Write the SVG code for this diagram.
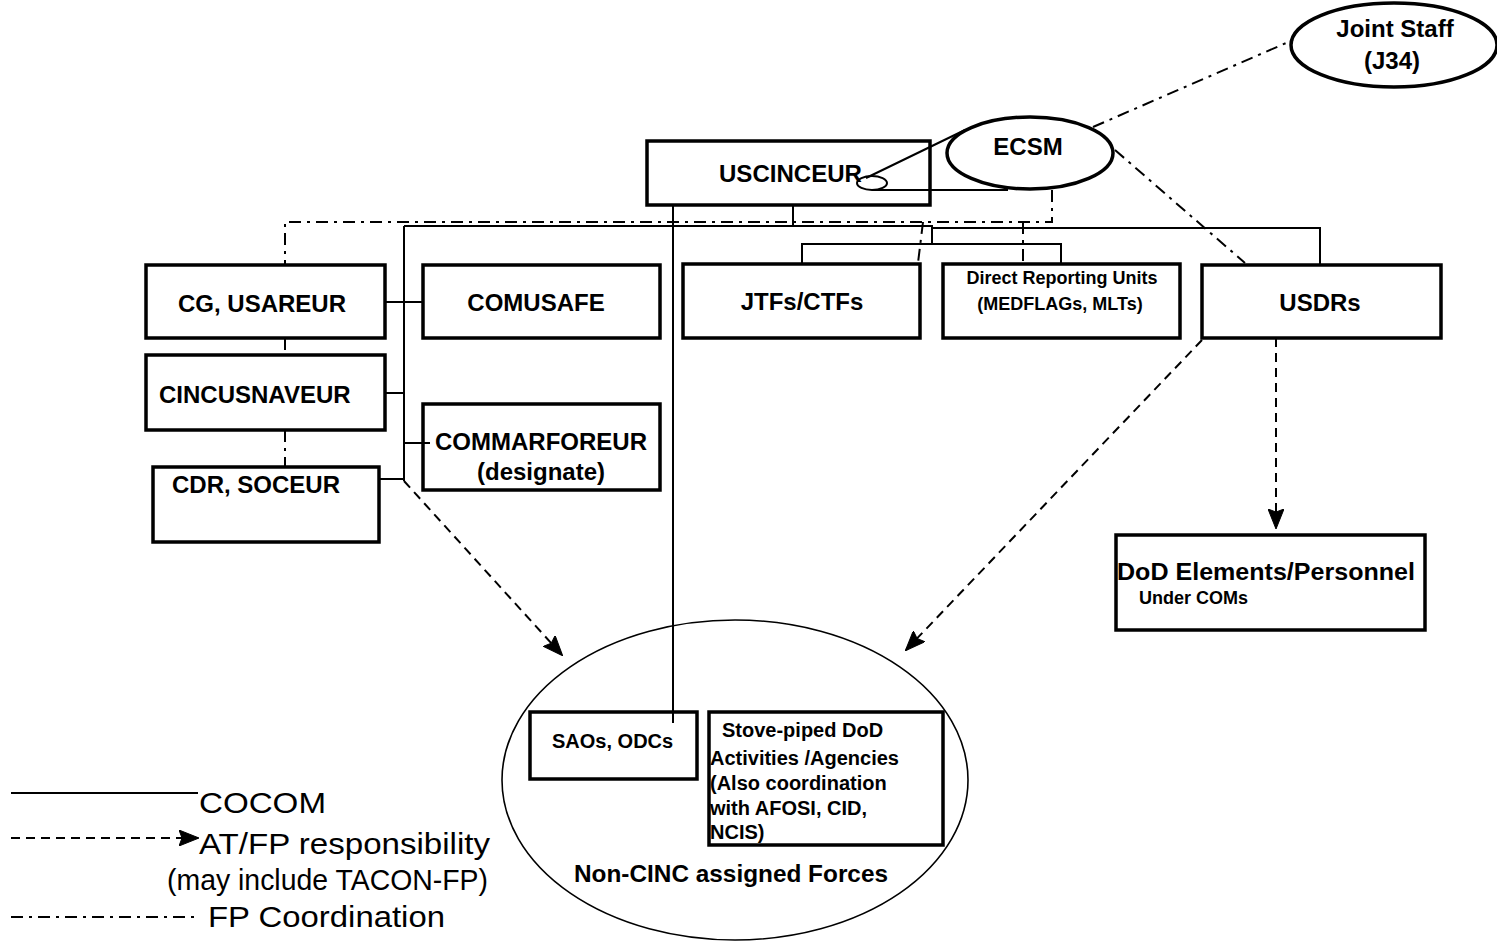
<svg xmlns="http://www.w3.org/2000/svg" width="1497" height="943" viewBox="0 0 1497 943">
<style>
.box{fill:#fff;stroke:#000;stroke-width:3.5}
.ell{fill:#fff;stroke:#000;stroke-width:3.5}
.thin{fill:none;stroke:#000;stroke-width:1.6}
.co{fill:none;stroke:#000;stroke-width:2}
.dd{fill:none;stroke:#000;stroke-width:2;stroke-dasharray:12 6 3 6}
.da{fill:none;stroke:#000;stroke-width:2;stroke-dasharray:9 6}
.t{font-family:"Liberation Sans",Arial,sans-serif;font-weight:bold;font-size:24px;fill:#000}
.s{font-size:18px}
.m{font-size:20px}
.l{font-family:"Liberation Sans",Arial,sans-serif;font-size:29px;fill:#000}
.c{text-anchor:middle}
</style>
<defs>
<marker id="ah" viewBox="0 0 20 16" refX="19" refY="8" markerWidth="20" markerHeight="16" markerUnits="userSpaceOnUse" orient="auto">
<path d="M0,0 L20,8 L0,16 L3,8 z" fill="#000" stroke="#000" stroke-width="1"/>
</marker>
</defs>

<g id="non-cinc">
<ellipse cx="735" cy="780" rx="233" ry="160" class="thin"/>
<text x="574" y="882" class="t" textLength="314" lengthAdjust="spacingAndGlyphs">Non-CINC assigned Forces</text>
</g>

<g id="uscinceur">
<rect x="647" y="141" width="283" height="64" class="box"/>
<text x="719" y="182" class="t" textLength="143" lengthAdjust="spacingAndGlyphs">USCINCEUR</text>
</g>

<g id="ecsm">
<ellipse cx="1030" cy="153" rx="83" ry="36" class="ell"/>
<text x="1028" y="155" class="t c">ECSM</text>
</g>

<g id="joint-staff">
<ellipse cx="1394" cy="45" rx="103" ry="42" class="ell"/>
<text x="1395" y="37" class="t c">Joint Staff</text>
<text x="1392" y="69" class="t c">(J34)</text>
</g>

<g id="cg-usareur">
<rect x="146" y="265" width="239" height="73" class="box"/>
<text x="262" y="312" class="t c">CG, USAREUR</text>
</g>

<g id="comusafe">
<rect x="423" y="265" width="237" height="73" class="box"/>
<text x="536" y="311" class="t c">COMUSAFE</text>
</g>

<g id="jtfs">
<rect x="683" y="264" width="237" height="74" class="box"/>
<text x="802" y="310" class="t c">JTFs/CTFs</text>
</g>

<g id="dru">
<rect x="943" y="264" width="237" height="74" class="box"/>
<text x="1062" y="284" class="t s c">Direct Reporting Units</text>
<text x="1060" y="310" class="t s c">(MEDFLAGs, MLTs)</text>
</g>

<g id="usdrs">
<rect x="1202" y="265" width="239" height="73" class="box"/>
<text x="1320" y="311" class="t c">USDRs</text>
</g>

<g id="cincusnaveur">
<rect x="146" y="355" width="239" height="75" class="box"/>
<text x="159" y="403" class="t">CINCUSNAVEUR</text>
</g>

<g id="commarforeur">
<rect x="423" y="404" width="237" height="86" class="box"/>
<text x="541" y="450" class="t c">COMMARFOREUR</text>
<text x="541" y="480" class="t c">(designate)</text>
</g>

<g id="cdr-soceur">
<rect x="153" y="467" width="226" height="75" class="box"/>
<text x="172" y="493" class="t">CDR, SOCEUR</text>
</g>

<g id="saos">
<rect x="530" y="712" width="167" height="67" class="box"/>
<text x="552" y="748" class="t m">SAOs, ODCs</text>
</g>

<g id="stove-piped">
<rect x="709" y="712" width="234" height="133" class="box"/>
<text class="t m">
<tspan x="722" y="737">Stove-piped DoD</tspan>
<tspan x="710" y="765">Activities /Agencies</tspan>
<tspan x="710" y="790">(Also coordination</tspan>
<tspan x="710" y="815">with AFOSI, CID,</tspan>
<tspan x="710" y="839">NCIS)</tspan>
</text>
</g>

<g id="dod-elements">
<rect x="1116" y="535" width="309" height="95" class="box"/>
<text x="1117" y="580" class="t" textLength="298" lengthAdjust="spacingAndGlyphs">DoD Elements/Personnel</text>
<text x="1139" y="604" class="t s">Under COMs</text>
</g>

<g id="connectors">
<!-- COCOM solid -->
<path class="co" d="M793,205 V226 M404,226 H932 V244 M932,228 H1320 V265 M802,264 V244 H1061 V264 M404,226 V481 M385,302 H423 M385,393 H404 M404,443 H430 M379,479 H404 M673,205 V723"/>
<path class="co" d="M866,178 L965,130 M872,190 H1008"/>
<ellipse cx="872" cy="183" rx="15" ry="7" class="co"/>
<!-- FP coordination dash-dot -->
<path class="dd" d="M1052,190 V222 H285 V265"/>
<path class="dd" d="M285,338 V355 M285,430 V467"/>
<path class="dd" d="M923,222 L918,263 M1023,222 V262"/>
<path class="dd" d="M1093,127 L1293,40"/>
<path class="dd" d="M1115,150 L1245,263"/>
<!-- AT/FP dashed arrows -->
<path class="da" d="M404,481 L562,655" marker-end="url(#ah)"/>
<path class="da" d="M1202,340 L906,650" marker-end="url(#ah)"/>
<path class="da" d="M1276,338 V528" marker-end="url(#ah)"/>
</g>

<g id="legend">
<path class="co" d="M11,793 H198"/>
<text x="199" y="813" class="l" textLength="127" lengthAdjust="spacingAndGlyphs">COCOM</text>
<path class="da" d="M11,838 H198" marker-end="url(#ah)"/>
<text x="199" y="854" class="l" textLength="291" lengthAdjust="spacingAndGlyphs">AT/FP responsibility</text>
<text x="167" y="890" class="l" textLength="321" lengthAdjust="spacingAndGlyphs">(may include TACON-FP)</text>
<path class="dd" d="M11,917 H198"/>
<text x="208" y="927" class="l" textLength="237" lengthAdjust="spacingAndGlyphs">FP Coordination</text>
</g>
</svg>
